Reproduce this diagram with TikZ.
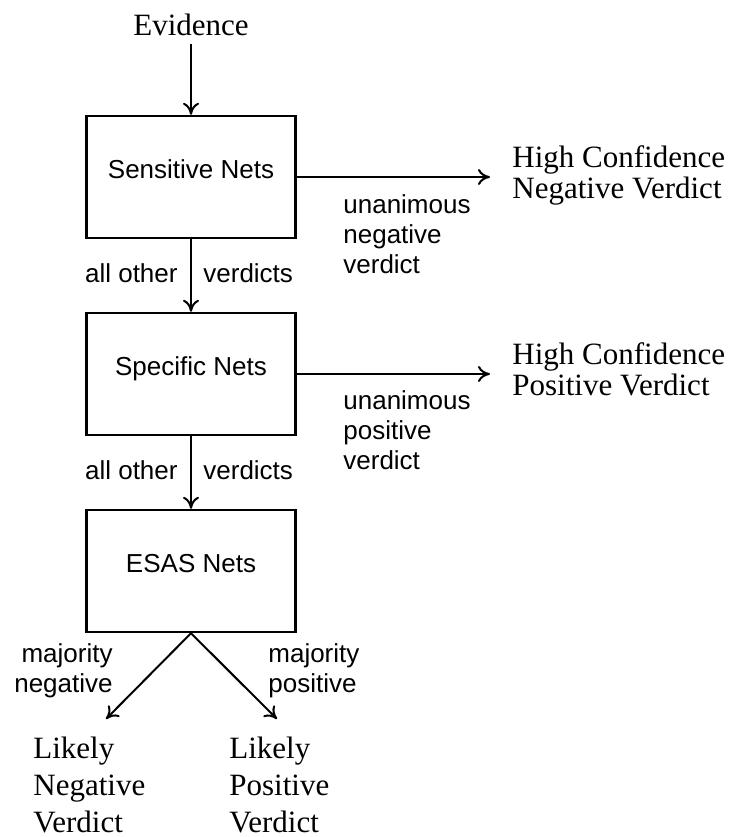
\documentclass[tikz,border=0pt]{standalone}
\usepackage{fontspec}
\setmainfont{Liberation Serif}
\setsansfont{Liberation Sans}
\usetikzlibrary{arrows.meta}

\tikzset{
  netbox/.style={rectangle, draw, line width=1.2pt, minimum width=104.5pt, minimum height=61pt, inner sep=0pt,
    font=\sffamily\fontsize{13}{15}\selectfont, text height=9.5pt, text depth=8pt},
  note/.style={inner sep=0pt, align=left, font=\sffamily\fontsize{13}{15}\selectfont},
  outcome/.style={inner sep=0pt, align=left, font=\rmfamily\fontsize{15.5}{15.5}\selectfont},
  result/.style={inner sep=0pt, align=left, font=\rmfamily\fontsize{15.5}{18.5}\selectfont},
  flow/.style={->, line width=1pt}
}

\begin{document}
\begin{tikzpicture}[x=0.5pt, y=-0.5pt, >={To[length=6pt,width=8pt]}]
	\useasboundingbox (0,0) rectangle (731,837);

	\node[outcome, anchor=base] (evid) at (191,35) {Evidence};
	\node[netbox] (sens) at (191,177) {Sensitive Nets};
	\node[netbox] (spec) at (191,374) {Specific Nets};
	\node[netbox] (esas) at (191,571) {ESAS Nets};

	\node[outcome, anchor=base west] (hcneg) at (512,198) {High Confidence\\Negative Verdict};
	\node[outcome, anchor=base west] (hcpos) at (512,395) {High Confidence\\Positive Verdict};
	\node[result, anchor=base west] (lneg) at (33,832) {Likely\\Negative\\Verdict};
	\node[result, anchor=base west] (lpos) at (229,832) {Likely\\Positive\\Verdict};

	\node[note, anchor=base west] (unneg) at (343,273) {unanimous\\negative\\verdict};
	\node[note, anchor=base east] (othera) at (178,282) {all other};
	\node[note, anchor=base west] (verda) at (203,282) {verdicts};
	\node[note, anchor=base west] (unpos) at (343,469) {unanimous\\positive\\verdict};
	\node[note, anchor=base east] (otherb) at (178,479) {all other};
	\node[note, anchor=base west] (verdb) at (203,479) {verdicts};
	\node[note, anchor=base east, align=right] (majneg) at (113,692) {majority\\negative};
	\node[note, anchor=base west] (majpos) at (268,692) {majority\\positive};

	\coordinate (tipneg) at (106,719);
	\coordinate (tippos) at (277,719);

	\draw[flow, shorten <=4pt] (evid.south) -- (sens.north);
	\draw[flow] (sens.south) -- (spec.north);
	\draw[flow] (spec.south) -- (esas.north);
	\draw[flow, shorten >=11pt] (sens.east) -- (sens.east -| hcneg.west);
	\draw[flow, shorten >=11pt] (spec.east) -- (spec.east -| hcpos.west);
	\draw[flow] (esas.south) -- (tipneg);
	\draw[flow] (esas.south) -- (tippos);
\end{tikzpicture}
\end{document}
